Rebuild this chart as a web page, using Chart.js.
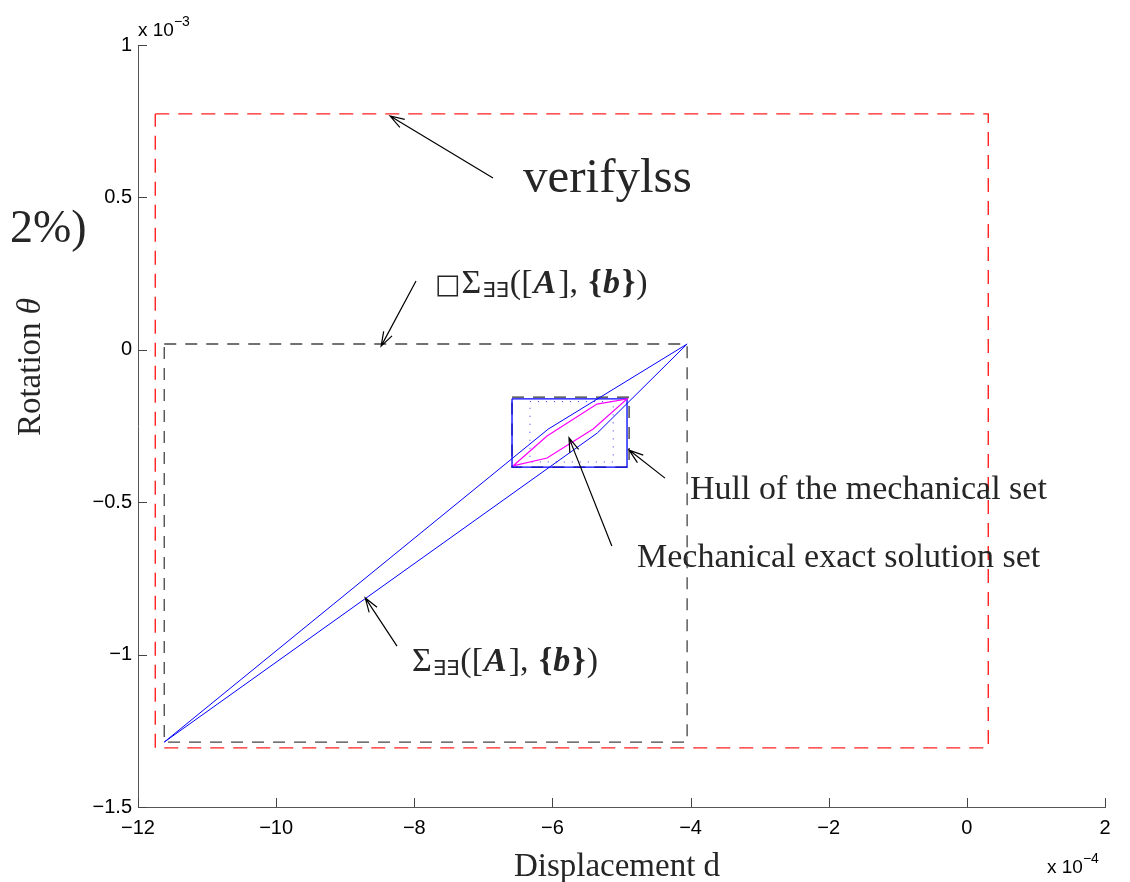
<!DOCTYPE html>
<html>
<head>
<meta charset="utf-8">
<script src="https://cdn.jsdelivr.net/npm/chart.js"></script>
<style>
  html, body { margin: 0; padding: 0; background: #fff; }
  #wrap { width: 1130px; height: 882px; }
</style>
</head>
<body>
<div id="wrap"><canvas id="chart" width="1130" height="882"></canvas></div>
<script>
// axis ticks (x in 1e-4, y in 1e-3)
const xTicks = [-12, -10, -8, -6, -4, -2, 0, 2];
const yTicks = [-1.5, -1, -0.5, 0, 0.5, 1];

// boxes: [xmin, xmax, ymin, ymax]
const verifyBox = [-11.75, 0.31, -1.306, 0.774];
const intervalBox = [-11.62, -4.05, -1.287, 0.019];
const hullDashBox = [-6.585, -4.89, -0.385, -0.155];
const hullBox = [-6.585, -4.92, -0.385, -0.161];
const innerDotBox = [-6.325, -5.12, -0.368, -0.17];

// united solution set (blue quadrilateral)
const sigmaX = [-11.62, -6.06, -4.05, -5.35, -11.62];
const sigmaY = [-1.287, -0.26, 0.019, -0.273, -1.287];

// mechanical exact solution set (magenta)
const mechX = [-6.571, -6.078, -5.355, -4.92, -5.41, -6.078, -6.571];
const mechY = [-0.381, -0.283, -0.178, -0.161, -0.26, -0.355, -0.381];

// arrows: [tailX, tailY, headX, headY]
const arrows = [
  [-6.86, 0.564, -8.35, 0.767],
  [-7.975, 0.226, -8.48, 0.012],
  [-5.14, -0.644, -5.76, -0.289],
  [-4.37, -0.421, -4.89, -0.329],
  [-8.25, -0.972, -8.71, -0.814]
];

function boxPoints(b) {
  return [
    {x: b[0], y: b[3]}, {x: b[1], y: b[3]}, {x: b[1], y: b[2]},
    {x: b[0], y: b[2]}, {x: b[0], y: b[3]}
  ];
}
function zipPoints(xs, ys) {
  return xs.map((x, i) => ({x: x, y: ys[i]}));
}
function fmt(v) {
  return String(v).replace('-', '\u2212');
}

const SERIF = '"Liberation Serif", "DejaVu Serif", serif';
const SANS = '"Liberation Sans", Arial, sans-serif';
const TEXT = '#262626';

// draws runs of text one after another
function drawRuns(ctx, x, y, runs) {
  let cx = x;
  runs.forEach(r => {
    ctx.font = r.font;
    ctx.fillText(r.t, cx, y + (r.dy || 0));
    cx += ctx.measureText(r.t).width + (r.gap || 0);
  });
}

function sigmaRuns(size, withBox) {
  const reg = size + 'px ' + SERIF;
  const bold = 'bold ' + size + 'px ' + SERIF;
  const boldIt = 'italic bold ' + size + 'px ' + SERIF;
  const sub = Math.round(size * 0.62) + 'px "DejaVu Sans", sans-serif';
  const runs = [];
  if (withBox) runs.push({t: '\u25A1', font: Math.round(size * 0.8) + 'px "DejaVu Sans", sans-serif', gap: 1});
  runs.push({t: '\u03A3', font: reg, gap: 1});
  runs.push({t: '\u2203\u2203', font: sub, dy: 4, gap: 1});
  runs.push({t: '([', font: reg, gap: 1});
  runs.push({t: 'A', font: boldIt, gap: 2});
  runs.push({t: '], ', font: reg, gap: 2});
  runs.push({t: '{', font: bold, gap: 1});
  runs.push({t: 'b', font: boldIt, gap: 2});
  runs.push({t: '}', font: bold, gap: 1});
  runs.push({t: ')', font: reg});
  return runs;
}

// annotation text anchored in data coords (left, baseline)
const labels = [
  {kind: 'plain', text: 'verifylss', x: -6.426, y: 0.518, size: 49},
  {kind: 'boxsigma', x: -7.70, y: 0.187, size: 34},
  {kind: 'plain', text: 'Hull of the mechanical set', x: -4.008, y: -0.491, size: 34},
  {kind: 'plain', text: 'Mechanical exact solution set', x: -4.775, y: -0.711, size: 34},
  {kind: 'sigma', x: -8.033, y: -1.055, size: 34}
];

const overlay = {
  id: 'overlay',
  afterDraw(chart) {
    const ctx = chart.ctx;
    const xs = chart.scales.x, ys = chart.scales.y;
    const area = chart.chartArea;
    ctx.save();

    // inward tick marks
    ctx.strokeStyle = '#444';
    ctx.lineWidth = 1;
    ctx.beginPath();
    xTicks.forEach(v => {
      const px = Math.round(xs.getPixelForValue(v)) + 0.5;
      ctx.moveTo(px, area.bottom);
      ctx.lineTo(px, area.bottom - 9);
    });
    yTicks.forEach(v => {
      const py = Math.round(ys.getPixelForValue(v)) + 0.5;
      ctx.moveTo(area.left, py);
      ctx.lineTo(area.left + 9, py);
    });
    ctx.stroke();

    // arrows
    ctx.strokeStyle = '#000';
    ctx.lineWidth = 1.2;
    arrows.forEach(a => {
      const x1 = xs.getPixelForValue(a[0]), y1 = ys.getPixelForValue(a[1]);
      const x2 = xs.getPixelForValue(a[2]), y2 = ys.getPixelForValue(a[3]);
      const ang = Math.atan2(y2 - y1, x2 - x1);
      const len = 15, spread = 0.32;
      ctx.beginPath();
      ctx.moveTo(x1, y1);
      ctx.lineTo(x2, y2);
      ctx.moveTo(x2 - len * Math.cos(ang - spread), y2 - len * Math.sin(ang - spread));
      ctx.lineTo(x2, y2);
      ctx.lineTo(x2 - len * Math.cos(ang + spread), y2 - len * Math.sin(ang + spread));
      ctx.stroke();
    });

    // annotation text
    ctx.fillStyle = TEXT;
    ctx.textBaseline = 'alphabetic';
    ctx.textAlign = 'left';
    labels.forEach(l => {
      const px = xs.getPixelForValue(l.x), py = ys.getPixelForValue(l.y);
      if (l.kind === 'plain') {
        ctx.font = l.size + 'px ' + SERIF;
        ctx.fillText(l.text, px, py);
      } else {
        drawRuns(ctx, px, py, sigmaRuns(l.size, l.kind === 'boxsigma'));
      }
    });

    // stray label on the left
    ctx.font = '46px ' + SERIF;
    ctx.fillText('2%)', 10, 242);

    // axis titles
    ctx.font = '33px ' + SERIF;
    ctx.textAlign = 'center';
    ctx.fillText('Displacement d', 617, 876);
    ctx.save();
    ctx.translate(40, 367);
    ctx.rotate(-Math.PI / 2);
    ctx.textAlign = 'left';
    ctx.font = '33px ' + SERIF;
    const w1 = ctx.measureText('Rotation ').width;
    ctx.font = 'italic 33px ' + SERIF;
    const w2 = ctx.measureText('\u03B8').width;
    const start = -(w1 + w2) / 2;
    ctx.font = '33px ' + SERIF;
    ctx.fillText('Rotation ', start, 0);
    ctx.font = 'italic 33px ' + SERIF;
    ctx.fillText('\u03B8', start + w1, 0);
    ctx.restore();

    // exponent labels
    ctx.textAlign = 'left';
    ctx.fillStyle = '#000';
    drawRuns(ctx, 138, 36, [
      {t: 'x 10', font: '19px ' + SANS},
      {t: '\u22123', font: '14px ' + SANS, dy: -10}
    ]);
    drawRuns(ctx, 1047, 873, [
      {t: 'x 10', font: '19px ' + SANS},
      {t: '\u22124', font: '14px ' + SANS, dy: -10}
    ]);
    ctx.restore();
  }
};

const line = (data, color, width, dash) => ({
  data: data,
  showLine: true,
  borderColor: color,
  borderWidth: width,
  borderDash: dash,
  pointRadius: 0,
  fill: false,
  tension: 0
});

new Chart(document.getElementById('chart'), {
  type: 'scatter',
  data: {
    datasets: [
      line(zipPoints(mechX, mechY), '#ff00ff', 1.2, []),
      line(zipPoints(sigmaX, sigmaY), '#0000ff', 1, []),
      line(boxPoints(hullBox), '#0000ff', 1.3, []),
      line(boxPoints(innerDotBox), '#3333ff', 1, [1, 7]),
      line(boxPoints(hullDashBox), '#333', 1.3, [12, 9]),
      line(boxPoints(intervalBox), '#444', 1.3, [12, 9]),
      line(boxPoints(verifyBox), '#ff2020', 1.4, [14, 9])
    ]
  },
  options: {
    responsive: false,
    animation: false,
    layout: { padding: { left: 0, right: 25, top: 45, bottom: 0 } },
    plugins: { legend: { display: false }, tooltip: { enabled: false } },
    scales: {
      x: {
        type: 'linear',
        min: -12, max: 2,
        afterBuildTicks: s => { s.ticks = xTicks.map(v => ({value: v})); },
        afterFit: s => { s.height = 75; },
        grid: { display: false, drawTicks: false },
        border: { display: true, color: '#555', width: 1 },
        ticks: {
          padding: 9,
          color: '#000',
          font: { family: 'Liberation Sans', size: 20 },
          maxRotation: 0,
          callback: v => fmt(v)
        }
      },
      y: {
        type: 'linear',
        min: -1.5, max: 1,
        afterBuildTicks: s => { s.ticks = yTicks.map(v => ({value: v})); },
        afterFit: s => { s.width = 138; },
        grid: { display: false, drawTicks: false },
        border: { display: true, color: '#555', width: 1 },
        ticks: {
          padding: 6,
          color: '#000',
          font: { family: 'Liberation Sans', size: 20 },
          callback: v => fmt(v)
        }
      }
    }
  },
  plugins: [overlay]
});
</script>
</body>
</html>
